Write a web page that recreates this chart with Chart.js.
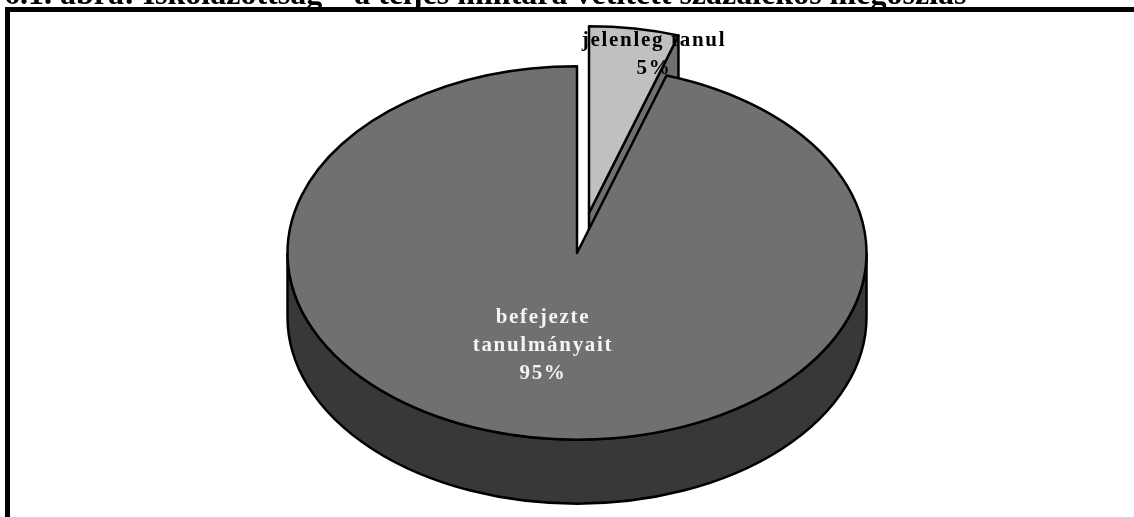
<!DOCTYPE html>
<html><head><meta charset="utf-8">
<style>html,body{margin:0;padding:0;background:#fff;overflow:hidden}canvas{display:block}</style>
<script src="https://cdn.jsdelivr.net/npm/chart.js@4"></script>
</head><body>
<canvas id="c" width="1134" height="517"></canvas>
<script>
const titleText = "6.1. ábra: Iskolázottság – a teljes mintára vetített százalékos megoszlás";
const categories = ["jelenleg tanul", "befejezte tanulmányait"];
const values = [5, 95];
const labelLines = [["jelenleg tanul"], ["befejezte", "tanulmányait"]];
const faceColors = ["#c0c0c0", "#707070"];
const wallColors = ["#707070", "#383838"];
const explodeX = [12, 0];
const explodeY = [-40, 0];
const SQUASH = 187 / 290, DEPTH = 64;
const labelPos = [[654, 46, 28], [543, 323, 28]];

function polish(ctx, font, color, spacing){
  ctx.font = font; ctx.fillStyle = color; ctx.textAlign = "center";
  ctx.textBaseline = "alphabetic"; ctx.letterSpacing = spacing;
}
const pie3d = {
  id: "pie3d",
  beforeDraw(chart){
    const ctx = chart.ctx;
    ctx.save();
    ctx.fillStyle = "#fff"; ctx.fillRect(0,0,1134,517);
    polish(ctx, "bold 32px 'Liberation Serif'", "#000", "0px");
    ctx.textAlign = "left";
    ctx.fillText(titleText, 4, 4);
    ctx.fillStyle = "#000";
    ctx.fillRect(5,7,5,510); ctx.fillRect(5,7,1129,5);
    ctx.restore();
  },
  beforeDatasetDraw(chart, args){
    const ctx = chart.ctx;
    const arcs = args.meta.data;
    arcs.forEach((arc, i) => {
      const p = arc.getProps(["x","y","startAngle","endAngle","outerRadius"], true);
      const cx = p.x + explodeX[i];
      const cy = p.y + explodeY[i];
      const rx = p.outerRadius, ry = rx * SQUASH;
      ctx.save();
      ctx.lineWidth = 2.5; ctx.strokeStyle = "#000"; ctx.lineJoin = "round";
      const pt = a => [cx + Math.cos(a) * rx, cy + Math.sin(a) * ry];
      // wall
      ctx.fillStyle = wallColors[i];
      ctx.beginPath();
      if (p.endAngle - p.startAngle > Math.PI) {
        ctx.moveTo(cx - rx, cy);
        ctx.lineTo(cx - rx, cy + DEPTH);
        ctx.ellipse(cx, cy + DEPTH, rx, ry, 0, Math.PI, 0, true);
        ctx.lineTo(cx + rx, cy);
        ctx.ellipse(cx, cy, rx, ry, 0, 0, Math.PI, false);
      } else {
        const [ex, ey] = pt(p.endAngle);
        ctx.moveTo(cx, cy); ctx.lineTo(ex, ey);
        ctx.lineTo(ex, ey + DEPTH); ctx.lineTo(cx, cy + DEPTH);
        ctx.closePath();
      }
      ctx.fill(); ctx.stroke();
      // top face through the library's arc element, squashed about the pie centre
      ctx.save();
      ctx.translate(explodeX[i], cy);
      ctx.scale(1, SQUASH);
      ctx.translate(0, -p.y);
      arc.draw(ctx, chart.chartArea);
      ctx.restore();
      // outline with an even pen
      ctx.beginPath();
      ctx.moveTo(cx, cy);
      ctx.ellipse(cx, cy, rx, ry, 0, p.startAngle, p.endAngle, false);
      ctx.closePath();
      ctx.stroke();
      ctx.restore();
    });
    return false;
  },
  afterDatasetsDraw(chart){
    const ctx = chart.ctx;
    ctx.save();
    polish(ctx, "bold 21px 'Liberation Serif'", "#000", "1.7px");
    labelLines.forEach((lines, i) => {
      ctx.fillStyle = i === 0 ? "#000" : "#f4f4f4";
      const [x, y, step] = labelPos[i];
      lines.concat([values[i] + "%"]).forEach((t, j) => ctx.fillText(t, x, y + j * step));
    });
    ctx.restore();
  }
};
new Chart(document.getElementById("c"), {
  type: "pie",
  data: { labels: categories, datasets: [{
    data: values, backgroundColor: faceColors, borderWidth: 0, radius: 289.5
  }]},
  options: {
    responsive: false, animation: false,
    events: [],
    layout: { padding: { left: 20, right: 0, top: 0, bottom: 11 } },
    plugins: { legend: { display: false }, tooltip: { enabled: false }, title: { display: false } }
  },
  plugins: [pie3d]
});
</script>
</body></html>
